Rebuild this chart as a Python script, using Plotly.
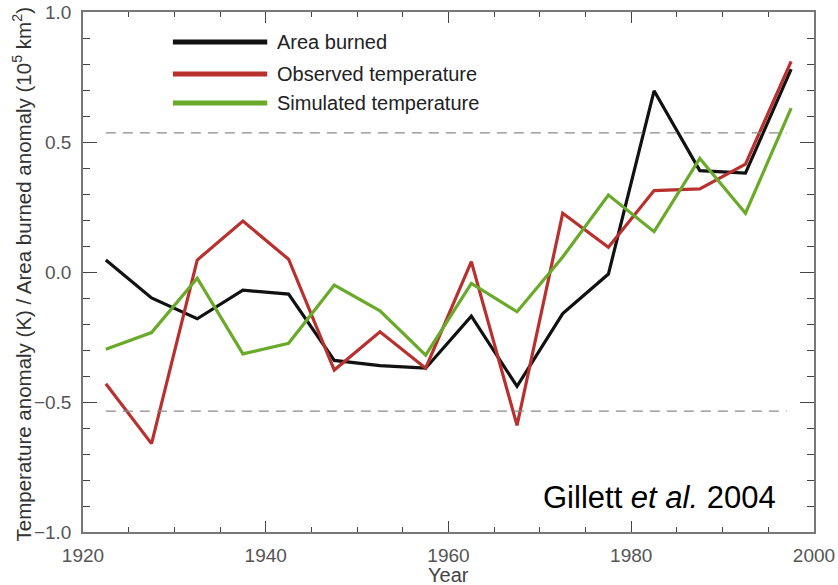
import plotly.graph_objects as go

years = [1922.5, 1927.5, 1932.5, 1937.5, 1942.5, 1947.5, 1952.5, 1957.5,
         1962.5, 1967.5, 1972.5, 1977.5, 1982.5, 1987.5, 1992.5, 1997.5]
area_burned = [0.046, -0.10, -0.18, -0.07, -0.085, -0.34, -0.36, -0.37,
               -0.17, -0.44, -0.16, -0.008, 0.697, 0.39, 0.38, 0.78]
observed_temp = [-0.43, -0.66, 0.046, 0.196, 0.049, -0.377, -0.23, -0.37,
                 0.04, -0.59, 0.226, 0.095, 0.313, 0.32, 0.415, 0.81]
simulated_temp = [-0.297, -0.233, -0.024, -0.315, -0.274, -0.05, -0.149, -0.32,
                  -0.044, -0.153, 0.058, 0.296, 0.155, 0.437, 0.226, 0.63]
series_names = ["Area burned", "Observed temperature", "Simulated temperature"]
series_colors = ["#111111", "#b8312f", "#6aaa2a"]
threshold = 0.535
threshold_x = [1922.5, 1997.0]
x_ticks = [1920, 1940, 1960, 1980, 2000]
y_ticks = [-1.0, -0.5, 0.0, 0.5, 1.0]

FONT = "Liberation Sans, Arial"

fig = go.Figure()
for name, vals, col in zip(series_names, [area_burned, observed_temp, simulated_temp], series_colors):
    fig.add_trace(go.Scatter(x=years, y=vals, mode="lines", name=name,
                             line=dict(color=col, width=3.2), showlegend=False))

# dashed threshold lines
for s in (threshold, -threshold):
    fig.add_trace(go.Scatter(x=threshold_x, y=[s, s], mode="lines", showlegend=False,
                             line=dict(color="#8a8a8a", width=1.3, dash="10px,7px"),
                             hoverinfo="skip"))

# manual legend (long line samples)
leg_y = [0.9423, 0.8808, 0.825]
for name, col, yy in zip(series_names, series_colors, leg_y):
    fig.add_shape(type="line", xref="paper", yref="paper", x0=0.123, x1=0.252,
                  y0=yy, y1=yy, line=dict(color=col, width=5))
    fig.add_annotation(xref="paper", yref="paper", x=0.263, y=yy, text=name,
                       showarrow=False, xanchor="left", yanchor="middle",
                       font=dict(size=20, color="#222222", family=FONT))

fig.add_annotation(xref="paper", yref="paper", x=0.951, y=0.067,
                   text="Gillett <i>et al.</i> 2004", showarrow=False,
                   xanchor="right", yanchor="middle",
                   font=dict(size=31, color="#000000", family=FONT))

# axis titles
fig.add_annotation(xref="paper", yref="paper", x=0.5, y=-0.0827, text="Year",
                   showarrow=False, xanchor="center", yanchor="middle",
                   font=dict(size=20, color="#444444", family=FONT))
fig.add_annotation(xref="paper", yref="paper", x=-0.083, y=0.496,
                   text="Temperature anomaly (K) / Area burned anomaly (10<sup>5</sup> km<sup>2</sup>)",
                   textangle=-90, showarrow=False, xanchor="center", yanchor="middle",
                   font=dict(size=20.5, color="#333333", family=FONT))

axis_common = dict(showgrid=False, zeroline=False, showline=True, linecolor="#777777",
                   linewidth=1.5, mirror="ticks", ticks="inside", tickcolor="#444444",
                   automargin=False, ticklabeloverflow="allow",
                   tickfont=dict(size=19, color="#555555", family=FONT))

fig.update_xaxes(range=[1920, 2000], tickvals=x_ticks, ticklen=11, tickwidth=1.3,
                 ticklabelstandoff=5,
                 minor=dict(dtick=5, tick0=1920, ticks="inside", ticklen=5, tickcolor="#444444", tickwidth=1.2),
                 **axis_common)
fig.update_yaxes(range=[-1.0, 1.0], tickvals=y_ticks, tickformat=".1f", ticklen=14, tickwidth=1.3,
                 ticklabelstandoff=6,
                 minor=dict(dtick=0.1, tick0=0, ticks="inside", ticklen=7, tickcolor="#444444", tickwidth=1.2),
                 **axis_common)

fig.update_layout(width=838, height=585, margin=dict(l=83, r=24, t=12, b=53),
                  plot_bgcolor="white", paper_bgcolor="white",
                  font=dict(family=FONT))

# remove the default 8px page margin so the figure fills the window exactly
fig.write_html("out.html", config={"displayModeBar": False},
               post_script="document.body.style.margin='0';document.body.style.overflow='hidden';")
